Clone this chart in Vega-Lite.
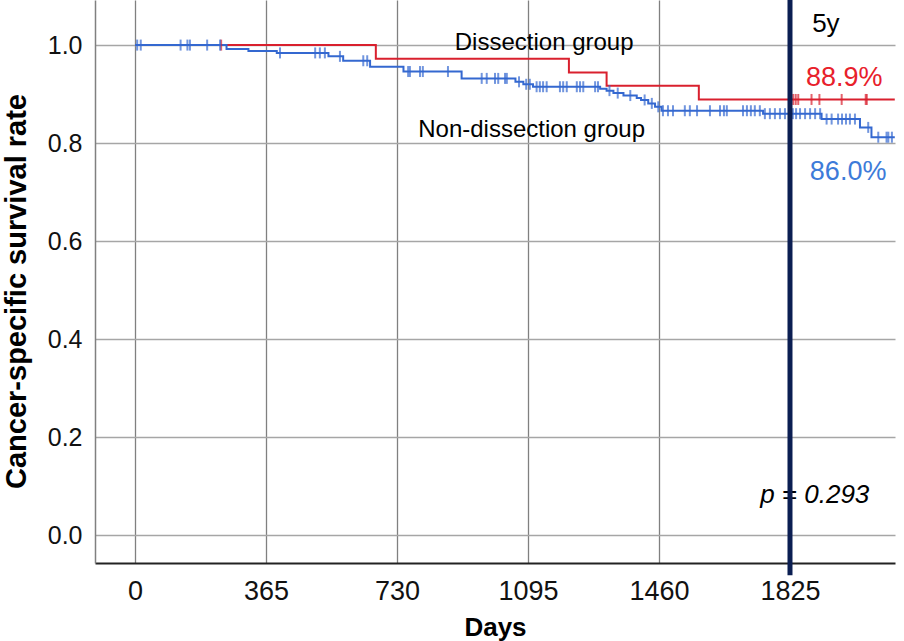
{
  "$schema": "https://vega.github.io/schema/vega-lite/v6.json",
  "width": 800,
  "height": 563,
  "autosize": {"type": "none"},
  "padding": {"left": 95, "top": 0, "right": 9, "bottom": 78},
  "background": "white",
  "config": {
    "view": {"stroke": null},
    "font": "Liberation Sans",
    "text": {"font": "Liberation Sans"}
  },
  "datasets": {
    "curves": [
      {"group": "Dissection", "day": 0, "surv": 1.0},
      {"group": "Dissection", "day": 671, "surv": 0.972},
      {"group": "Dissection", "day": 1209, "surv": 0.944},
      {"group": "Dissection", "day": 1314, "surv": 0.917},
      {"group": "Dissection", "day": 1571, "surv": 0.889},
      {"group": "Dissection", "day": 2117, "surv": 0.889},
      {"group": "Non-dissection", "day": 0, "surv": 1.0},
      {"group": "Non-dissection", "day": 255, "surv": 0.992},
      {"group": "Non-dissection", "day": 316, "surv": 0.988},
      {"group": "Non-dissection", "day": 395, "surv": 0.984},
      {"group": "Non-dissection", "day": 539, "surv": 0.977},
      {"group": "Non-dissection", "day": 580, "surv": 0.968},
      {"group": "Non-dissection", "day": 655, "surv": 0.956},
      {"group": "Non-dissection", "day": 748, "surv": 0.946},
      {"group": "Non-dissection", "day": 910, "surv": 0.932},
      {"group": "Non-dissection", "day": 1060, "surv": 0.925},
      {"group": "Non-dissection", "day": 1082, "surv": 0.92},
      {"group": "Non-dissection", "day": 1109, "surv": 0.915},
      {"group": "Non-dissection", "day": 1296, "surv": 0.911},
      {"group": "Non-dissection", "day": 1314, "surv": 0.907},
      {"group": "Non-dissection", "day": 1333, "surv": 0.902},
      {"group": "Non-dissection", "day": 1361, "surv": 0.897},
      {"group": "Non-dissection", "day": 1398, "surv": 0.892},
      {"group": "Non-dissection", "day": 1410, "surv": 0.888},
      {"group": "Non-dissection", "day": 1430, "surv": 0.881},
      {"group": "Non-dissection", "day": 1449, "surv": 0.874},
      {"group": "Non-dissection", "day": 1467, "surv": 0.866},
      {"group": "Non-dissection", "day": 1750, "surv": 0.86},
      {"group": "Non-dissection", "day": 1913, "surv": 0.849},
      {"group": "Non-dissection", "day": 2020, "surv": 0.832},
      {"group": "Non-dissection", "day": 2052, "surv": 0.812},
      {"group": "Non-dissection", "day": 2117, "surv": 0.812}
    ],
    "censors": [
      {"group": "Dissection", "day": 240, "surv": 1.0},
      {"group": "Dissection", "day": 1834, "surv": 0.889},
      {"group": "Dissection", "day": 1841, "surv": 0.889},
      {"group": "Dissection", "day": 1848, "surv": 0.889},
      {"group": "Dissection", "day": 1885, "surv": 0.889},
      {"group": "Dissection", "day": 1907, "surv": 0.889},
      {"group": "Dissection", "day": 1969, "surv": 0.889},
      {"group": "Dissection", "day": 2036, "surv": 0.889},
      {"group": "Dissection", "day": 2039, "surv": 0.889},
      {"group": "Non-dissection", "day": 6, "surv": 1.0},
      {"group": "Non-dissection", "day": 16, "surv": 1.0},
      {"group": "Non-dissection", "day": 127, "surv": 1.0},
      {"group": "Non-dissection", "day": 146, "surv": 1.0},
      {"group": "Non-dissection", "day": 153, "surv": 1.0},
      {"group": "Non-dissection", "day": 201, "surv": 1.0},
      {"group": "Non-dissection", "day": 237, "surv": 1.0},
      {"group": "Non-dissection", "day": 404, "surv": 0.984},
      {"group": "Non-dissection", "day": 502, "surv": 0.984},
      {"group": "Non-dissection", "day": 515, "surv": 0.984},
      {"group": "Non-dissection", "day": 529, "surv": 0.984},
      {"group": "Non-dissection", "day": 571, "surv": 0.977},
      {"group": "Non-dissection", "day": 636, "surv": 0.968},
      {"group": "Non-dissection", "day": 647, "surv": 0.968},
      {"group": "Non-dissection", "day": 761, "surv": 0.946},
      {"group": "Non-dissection", "day": 766, "surv": 0.946},
      {"group": "Non-dissection", "day": 794, "surv": 0.946},
      {"group": "Non-dissection", "day": 802, "surv": 0.946},
      {"group": "Non-dissection", "day": 872, "surv": 0.946},
      {"group": "Non-dissection", "day": 966, "surv": 0.932},
      {"group": "Non-dissection", "day": 980, "surv": 0.932},
      {"group": "Non-dissection", "day": 1003, "surv": 0.932},
      {"group": "Non-dissection", "day": 1012, "surv": 0.932},
      {"group": "Non-dissection", "day": 1031, "surv": 0.932},
      {"group": "Non-dissection", "day": 1036, "surv": 0.932},
      {"group": "Non-dissection", "day": 1070, "surv": 0.925},
      {"group": "Non-dissection", "day": 1090, "surv": 0.92},
      {"group": "Non-dissection", "day": 1100, "surv": 0.92},
      {"group": "Non-dissection", "day": 1119, "surv": 0.915},
      {"group": "Non-dissection", "day": 1128, "surv": 0.915},
      {"group": "Non-dissection", "day": 1137, "surv": 0.915},
      {"group": "Non-dissection", "day": 1147, "surv": 0.915},
      {"group": "Non-dissection", "day": 1184, "surv": 0.915},
      {"group": "Non-dissection", "day": 1193, "surv": 0.915},
      {"group": "Non-dissection", "day": 1203, "surv": 0.915},
      {"group": "Non-dissection", "day": 1231, "surv": 0.915},
      {"group": "Non-dissection", "day": 1240, "surv": 0.915},
      {"group": "Non-dissection", "day": 1249, "surv": 0.915},
      {"group": "Non-dissection", "day": 1282, "surv": 0.915},
      {"group": "Non-dissection", "day": 1290, "surv": 0.915},
      {"group": "Non-dissection", "day": 1322, "surv": 0.907},
      {"group": "Non-dissection", "day": 1345, "surv": 0.902},
      {"group": "Non-dissection", "day": 1380, "surv": 0.897},
      {"group": "Non-dissection", "day": 1420, "surv": 0.888},
      {"group": "Non-dissection", "day": 1440, "surv": 0.881},
      {"group": "Non-dissection", "day": 1458, "surv": 0.874},
      {"group": "Non-dissection", "day": 1471, "surv": 0.866},
      {"group": "Non-dissection", "day": 1485, "surv": 0.866},
      {"group": "Non-dissection", "day": 1499, "surv": 0.866},
      {"group": "Non-dissection", "day": 1532, "surv": 0.866},
      {"group": "Non-dissection", "day": 1546, "surv": 0.866},
      {"group": "Non-dissection", "day": 1566, "surv": 0.866},
      {"group": "Non-dissection", "day": 1602, "surv": 0.866},
      {"group": "Non-dissection", "day": 1630, "surv": 0.866},
      {"group": "Non-dissection", "day": 1641, "surv": 0.866},
      {"group": "Non-dissection", "day": 1649, "surv": 0.866},
      {"group": "Non-dissection", "day": 1694, "surv": 0.866},
      {"group": "Non-dissection", "day": 1705, "surv": 0.866},
      {"group": "Non-dissection", "day": 1716, "surv": 0.866},
      {"group": "Non-dissection", "day": 1727, "surv": 0.866},
      {"group": "Non-dissection", "day": 1741, "surv": 0.866},
      {"group": "Non-dissection", "day": 1755, "surv": 0.86},
      {"group": "Non-dissection", "day": 1769, "surv": 0.86},
      {"group": "Non-dissection", "day": 1783, "surv": 0.86},
      {"group": "Non-dissection", "day": 1797, "surv": 0.86},
      {"group": "Non-dissection", "day": 1811, "surv": 0.86},
      {"group": "Non-dissection", "day": 1833, "surv": 0.86},
      {"group": "Non-dissection", "day": 1842, "surv": 0.86},
      {"group": "Non-dissection", "day": 1853, "surv": 0.86},
      {"group": "Non-dissection", "day": 1867, "surv": 0.86},
      {"group": "Non-dissection", "day": 1881, "surv": 0.86},
      {"group": "Non-dissection", "day": 1895, "surv": 0.86},
      {"group": "Non-dissection", "day": 1909, "surv": 0.86},
      {"group": "Non-dissection", "day": 1927, "surv": 0.849},
      {"group": "Non-dissection", "day": 1941, "surv": 0.849},
      {"group": "Non-dissection", "day": 1959, "surv": 0.849},
      {"group": "Non-dissection", "day": 1970, "surv": 0.849},
      {"group": "Non-dissection", "day": 1981, "surv": 0.849},
      {"group": "Non-dissection", "day": 1992, "surv": 0.849},
      {"group": "Non-dissection", "day": 2006, "surv": 0.849},
      {"group": "Non-dissection", "day": 2043, "surv": 0.832},
      {"group": "Non-dissection", "day": 2071, "surv": 0.812},
      {"group": "Non-dissection", "day": 2094, "surv": 0.812},
      {"group": "Non-dissection", "day": 2099, "surv": 0.812},
      {"group": "Non-dissection", "day": 2109, "surv": 0.812}
    ]
  },
  "layer": [
    {
      "data": {"name": "curves"},
      "mark": {"type": "line", "interpolate": "step-after", "strokeWidth": 2},
      "encoding": {
        "x": {
          "field": "day", "type": "quantitative",
          "scale": {"domain": [-111.5, 2117.6], "nice": false, "zero": false},
          "axis": {
            "title": "Days",
            "values": [0, 365, 730, 1095, 1460, 1825],
            "format": "d",
            "ticks": false,
            "grid": true,
            "gridColor": "#808080",
            "gridWidth": 1.3,
            "domainColor": "#222222",
            "domainWidth": 2,
            "labelFontSize": 27,
            "labelColor": "#111111",
            "labelBaseline": "alphabetic",
            "labelPadding": 36,
            "labelFlush": false,
            "titleFontSize": 26,
            "titleFontWeight": "bold",
            "titleColor": "#000000",
            "titleBaseline": "alphabetic",
            "titleY": 72
          }
        },
        "y": {
          "field": "surv", "type": "quantitative",
          "scale": {"domain": [-0.057, 1.092], "nice": false, "zero": false},
          "axis": {
            "title": "Cancer-specific survival rate",
            "values": [0, 0.2, 0.4, 0.6, 0.8, 1.0],
            "format": ".1f",
            "ticks": false,
            "grid": true,
            "gridColor": "#a6a6a6",
            "gridWidth": 1.5,
            "domainColor": "#808080",
            "domainWidth": 1.5,
            "labelFontSize": 25,
            "labelColor": "#111111",
            "labelPadding": 13,
            "labelFlush": false,
            "titleFontSize": 29,
            "titleFontWeight": "bold",
            "titleColor": "#000000",
            "titleAngle": 270,
            "titleBaseline": "alphabetic",
            "titleAlign": "center",
            "titleX": -70,
            "titleY": 291
          }
        },
        "color": {
          "field": "group", "type": "nominal",
          "scale": {"domain": ["Dissection", "Non-dissection"], "range": ["#d9202e", "#3468d0"]},
          "legend": null
        }
      }
    },
    {
      "data": {"name": "censors"},
      "mark": {"type": "tick", "orient": "vertical", "size": 11, "thickness": 2},
      "encoding": {
        "x": {"field": "day", "type": "quantitative"},
        "y": {"field": "surv", "type": "quantitative"},
        "color": {"field": "group", "type": "nominal", "legend": null}
      }
    },
    {
      "data": {"values": [
        {"label": "Dissection group", "day": 1140, "surv": 0.99},
        {"label": "Non-dissection group", "day": 1105, "surv": 0.813}
      ]},
      "mark": {"type": "text", "fontSize": 24, "color": "#000000", "baseline": "alphabetic", "align": "center"},
      "encoding": {
        "x": {"field": "day", "type": "quantitative"},
        "y": {"field": "surv", "type": "quantitative"},
        "text": {"field": "label"}
      }
    },
    {
      "data": {"values": [{"label": "5y", "day": 1925, "surv": 1.027}]},
      "mark": {"type": "text", "fontSize": 26, "color": "#000000", "baseline": "alphabetic", "align": "center"},
      "encoding": {
        "x": {"field": "day", "type": "quantitative"},
        "y": {"field": "surv", "type": "quantitative"},
        "text": {"field": "label"}
      }
    },
    {
      "data": {"values": [{"label": "88.9%", "day": 1976, "surv": 0.916}]},
      "mark": {"type": "text", "fontSize": 27, "color": "#e8202a", "baseline": "alphabetic", "align": "center"},
      "encoding": {
        "x": {"field": "day", "type": "quantitative"},
        "y": {"field": "surv", "type": "quantitative"},
        "text": {"field": "label"}
      }
    },
    {
      "data": {"values": [{"label": "86.0%", "day": 1987, "surv": 0.724}]},
      "mark": {"type": "text", "fontSize": 27, "color": "#3d7bd9", "baseline": "alphabetic", "align": "center"},
      "encoding": {
        "x": {"field": "day", "type": "quantitative"},
        "y": {"field": "surv", "type": "quantitative"},
        "text": {"field": "label"}
      }
    },
    {
      "data": {"values": [{"label": "p = 0.293", "day": 1894, "surv": 0.065}]},
      "mark": {"type": "text", "fontSize": 26, "fontStyle": "italic", "color": "#000000", "baseline": "alphabetic", "align": "center"},
      "encoding": {
        "x": {"field": "day", "type": "quantitative"},
        "y": {"field": "surv", "type": "quantitative"},
        "text": {"field": "label"}
      }
    },
    {
      "data": {"values": [{"day": 1825}]},
      "mark": {"type": "rule", "color": "#0b1e52", "strokeWidth": 5},
      "encoding": {
        "x": {"field": "day", "type": "quantitative"},
        "y": {"datum": 1.092},
        "y2": {"datum": -0.082}
      }
    }
  ]
}
